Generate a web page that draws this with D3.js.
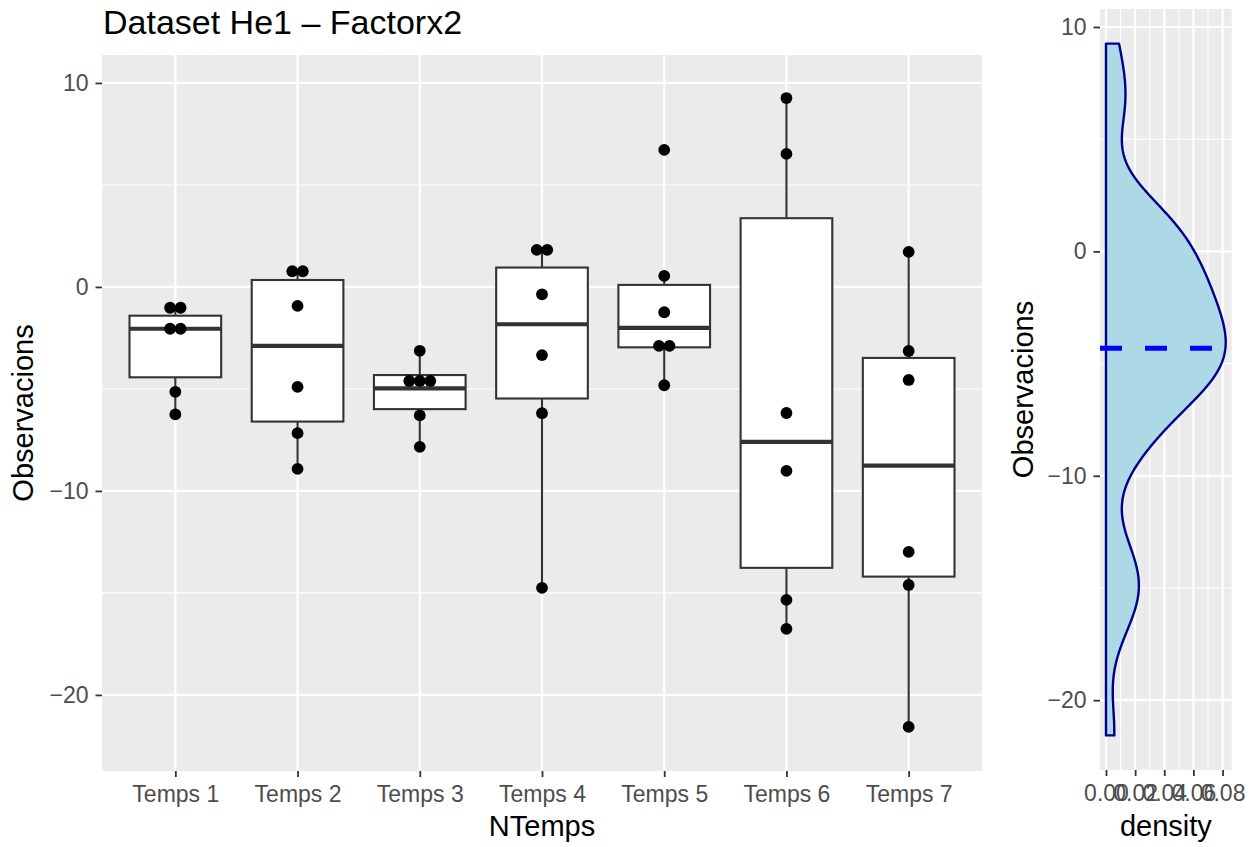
<!DOCTYPE html>
<html>
<head>
<meta charset="utf-8">
<script src="https://cdn.jsdelivr.net/npm/d3@7"></script>
<style>
  body { margin: 0; background: #fff; }
  text { font-family: "Liberation Sans", Arial, sans-serif; }
</style>
</head>
<body>
<svg id="chart" width="1260" height="847"></svg>
<script>
// ---- data ----
const categories = ["Temps 1", "Temps 2", "Temps 3", "Temps 4", "Temps 5", "Temps 6", "Temps 7"];

// observations (dot positions) per time point
const temps1 = [-1.02, -1.02, -2.05, -2.05, -5.14, -6.25];
const temps2 = [0.77, 0.77, -0.93, -4.9, -7.17, -8.92];
const temps3 = [-3.13, -4.61, -4.61, -4.61, -6.3, -7.84];
const temps4 = [1.82, 1.82, -0.36, -3.34, -6.19, -14.75];
const temps5 = [6.72, 0.54, -1.24, -2.89, -2.89, -4.82];
const temps6 = [9.26, 6.52, -6.18, -9.02, -15.34, -16.76];
const temps7 = [1.72, -3.14, -4.56, -12.99, -14.61, -21.57];
const observations = [temps1, temps2, temps3, temps4, temps5, temps6, temps7];

// boxplot statistics per time point
const whiskerLow  = [-6.25, -8.92, -7.84, -14.75, -4.82, -16.76, -21.57];
const quart1      = [-4.43, -6.60, -5.99, -5.47, -2.96, -13.77, -14.20];
const medians     = [-2.05, -2.89, -4.97, -1.83, -2.01, -7.60, -8.76];
const quart3      = [-1.41, 0.34, -4.32, 0.95, 0.10, 3.37, -3.48];
const whiskerHigh = [-1.02, 0.77, -3.13, 1.82, 0.54, 9.26, 1.72];

const yTicks = [-20, -10, 0, 10];
const yMinor = [-15, -5, 5];
const densTicks = [0, 0.02, 0.04, 0.06, 0.08];
const densMinor = [0.01, 0.03, 0.05, 0.07];

const svg = d3.select("#chart");
const fmt = d => (d < 0 ? "\u2212" + Math.abs(d) : String(d));
const fmtDens = d3.format(".2f");

// ---- left panel: boxplots ----
let left = {x0: 102, x1: 982, y0: 55, y1: 771};

let x = d3.scalePoint().domain(categories).range([left.x0, left.x1]).padding(0.6);
let y = d3.scaleLinear().domain([-23.73, 11.37]).range([left.y1, left.y0]);
let boxW = x.step() * 0.75;

let gL = svg.append("g");
gL.append("rect")
  .attr("x", left.x0).attr("y", left.y0)
  .attr("width", left.x1 - left.x0).attr("height", left.y1 - left.y0)
  .attr("fill", "#EBEBEB");

gL.selectAll(".minor").data(yMinor).join("line")
  .attr("x1", left.x0).attr("x2", left.x1)
  .attr("y1", d => y(d)).attr("y2", d => y(d))
  .attr("stroke", "#fff").attr("stroke-width", 1.1);
gL.selectAll(".major").data(yTicks).join("line")
  .attr("x1", left.x0).attr("x2", left.x1)
  .attr("y1", d => y(d)).attr("y2", d => y(d))
  .attr("stroke", "#fff").attr("stroke-width", 2.2);
gL.selectAll(".vgrid").data(categories).join("line")
  .attr("x1", d => x(d)).attr("x2", d => x(d))
  .attr("y1", left.y0).attr("y2", left.y1)
  .attr("stroke", "#fff").attr("stroke-width", 2.2);

// whiskers, boxes, medians
categories.forEach((c, i) => {
  let cx = x(c);
  let g = gL.append("g").attr("stroke", "#333333").attr("stroke-width", 2.1);
  g.append("line").attr("x1", cx).attr("x2", cx).attr("y1", y(whiskerHigh[i])).attr("y2", y(quart3[i]));
  g.append("line").attr("x1", cx).attr("x2", cx).attr("y1", y(quart1[i])).attr("y2", y(whiskerLow[i]));
  g.append("rect")
    .attr("x", cx - boxW / 2).attr("y", y(quart3[i]))
    .attr("width", boxW).attr("height", y(quart1[i]) - y(quart3[i]))
    .attr("fill", "#fff");
  g.append("line")
    .attr("x1", cx - boxW / 2).attr("x2", cx + boxW / 2)
    .attr("y1", y(medians[i])).attr("y2", y(medians[i]))
    .attr("stroke-width", 4.2);
});

// dots, stacked sideways when they share a bin
let dotGap = 10.5;
let dots = [];
observations.forEach((vals, i) => {
  let counts = d3.rollup(vals, v => v.length, v => v);
  let seen = new Map();
  vals.forEach(v => {
    let k = counts.get(v), j = seen.get(v) || 0;
    seen.set(v, j + 1);
    dots.push({cat: categories[i], v: v, off: (j - (k - 1) / 2) * dotGap});
  });
});
gL.selectAll(".dot").data(dots).join("circle")
  .attr("cx", d => x(d.cat) + d.off)
  .attr("cy", d => y(d.v))
  .attr("r", 5.9)
  .attr("fill", "#000");

// axes
let axL = gL.append("g").attr("transform", `translate(${left.x0},0)`)
  .call(d3.axisLeft(y).tickValues(yTicks).tickSize(6.5).tickPadding(7).tickFormat(fmt));
let axB = gL.append("g").attr("transform", `translate(0,${left.y1})`)
  .call(d3.axisBottom(x).tickSize(6).tickPadding(8.5));
[axL, axB].forEach(a => {
  a.select(".domain").remove();
  a.selectAll(".tick line").attr("stroke", "#333333").attr("stroke-width", 1.8);
  a.selectAll(".tick text").attr("fill", "#4D4D4D").style("font-size", "23px")
    .style("font-family", "'Liberation Sans', Arial, sans-serif");
});

svg.append("text").attr("x", 103).attr("y", 34)
  .style("font-size", "34px").attr("fill", "#000")
  .text("Dataset He1 \u2013 Factorx2");
svg.append("text").attr("x", (left.x0 + left.x1) / 2).attr("y", 836)
  .attr("text-anchor", "middle").style("font-size", "29px")
  .text("NTemps");
svg.append("text")
  .attr("transform", `translate(33,${(left.y0 + left.y1) / 2}) rotate(-90)`)
  .attr("text-anchor", "middle").style("font-size", "29px")
  .text("Observacions");

// ---- right panel: density of all observations ----
let right = {x0: 1100, x1: 1231.7, y0: 9, y1: 770};
let allObs = observations.flat();
let [lo, hi] = d3.extent(allObs);
let pad = (hi - lo) * 0.05;
let yR = d3.scaleLinear().domain([lo - pad, hi + pad]).range([right.y1, right.y0]);

// gaussian kernel density, bw.nrd0
let n = allObs.length;
let sorted = allObs.slice().sort(d3.ascending);
let iqr = d3.quantile(sorted, 0.75) - d3.quantile(sorted, 0.25);
let bw = 0.9 * Math.min(d3.deviation(allObs), iqr / 1.34) * Math.pow(n, -0.2);
let grid = d3.range(512).map(j => lo + j * (hi - lo) / 511);
let dens = grid.map(g => [g, d3.sum(allObs, v => Math.exp(-0.5 * ((g - v) / bw) ** 2)) / (n * bw * Math.sqrt(2 * Math.PI))]);
let dMax = d3.max(dens, d => d[1]);
let xR = d3.scaleLinear().domain([-dMax * 0.05, dMax * 1.05]).range([right.x0, right.x1]);

let gR = svg.append("g");
gR.append("rect")
  .attr("x", right.x0).attr("y", right.y0)
  .attr("width", right.x1 - right.x0).attr("height", right.y1 - right.y0)
  .attr("fill", "#EBEBEB");
gR.selectAll(".hminor").data(yMinor).join("line")
  .attr("x1", right.x0).attr("x2", right.x1)
  .attr("y1", d => yR(d)).attr("y2", d => yR(d))
  .attr("stroke", "#fff").attr("stroke-width", 1.1);
gR.selectAll(".vminor").data(densMinor).join("line")
  .attr("x1", d => xR(d)).attr("x2", d => xR(d))
  .attr("y1", right.y0).attr("y2", right.y1)
  .attr("stroke", "#fff").attr("stroke-width", 1.1);
gR.selectAll(".hmajor").data(yTicks).join("line")
  .attr("x1", right.x0).attr("x2", right.x1)
  .attr("y1", d => yR(d)).attr("y2", d => yR(d))
  .attr("stroke", "#fff").attr("stroke-width", 2.2);
gR.selectAll(".vmajor").data(densTicks).join("line")
  .attr("x1", d => xR(d)).attr("x2", d => xR(d))
  .attr("y1", right.y0).attr("y2", right.y1)
  .attr("stroke", "#fff").attr("stroke-width", 2.2);

let area = [[0, lo]].concat(dens.map(d => [d[1], d[0]])).concat([[0, hi]]);
gR.append("path")
  .attr("d", d3.line().x(d => xR(d[0])).y(d => yR(d[1]))(area) + "Z")
  .attr("fill", "#ADD8E6").attr("stroke", "#00008B").attr("stroke-width", 2.4)
  .attr("stroke-linejoin", "round");

let mean = d3.mean(allObs);
gR.append("line")
  .attr("x1", right.x0).attr("x2", right.x1)
  .attr("y1", yR(mean)).attr("y2", yR(mean))
  .attr("stroke", "#0000FF").attr("stroke-width", 5).attr("stroke-dasharray", "22,23");

let axRL = gR.append("g").attr("transform", `translate(${right.x0},0)`)
  .call(d3.axisLeft(yR).tickValues(yTicks).tickSize(6.5).tickPadding(7).tickFormat(fmt));
let axRB = gR.append("g").attr("transform", `translate(0,${right.y1})`)
  .call(d3.axisBottom(xR).tickValues(densTicks).tickSize(6).tickPadding(8.5).tickFormat(fmtDens));
[axRL, axRB].forEach(a => {
  a.select(".domain").remove();
  a.selectAll(".tick line").attr("stroke", "#333333").attr("stroke-width", 1.8);
  a.selectAll(".tick text").attr("fill", "#4D4D4D").style("font-size", "23px")
    .style("font-family", "'Liberation Sans', Arial, sans-serif");
});

svg.append("text").attr("x", (right.x0 + right.x1) / 2).attr("y", 836)
  .attr("text-anchor", "middle").style("font-size", "29px")
  .text("density");
svg.append("text")
  .attr("transform", `translate(1033,${(right.y0 + right.y1) / 2}) rotate(-90)`)
  .attr("text-anchor", "middle").style("font-size", "29px")
  .text("Observacions");
</script>
</body>
</html>
